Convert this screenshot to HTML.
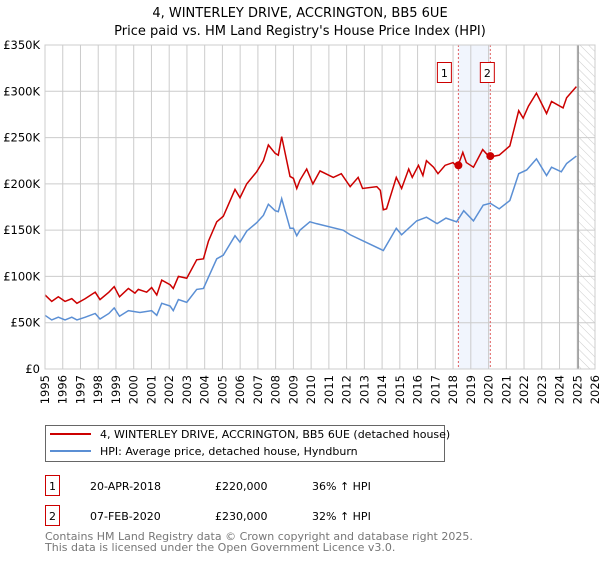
<!DOCTYPE html>
<html><head><meta charset="utf-8"><style>
body{margin:0;background:#fff;font-family:"Liberation Sans","DejaVu Sans",sans-serif;}
svg text{font-family:"DejaVu Sans","Liberation Sans",sans-serif;}
</style></head><body>
<svg id="c" width="600" height="560" xmlns="http://www.w3.org/2000/svg">
<defs><pattern id="hatch" width="6" height="6" patternUnits="userSpaceOnUse" patternTransform="rotate(-45)"><line x1="0" y1="0" x2="0" y2="6" stroke="#ccc" stroke-width="1"/></pattern></defs>
<text x="300" y="17" text-anchor="middle" font-size="13" fill="#000">4, WINTERLEY DRIVE, ACCRINGTON, BB5 6UE</text>
<text x="300" y="35" text-anchor="middle" font-size="13" fill="#000">Price paid vs. HM Land Registry's House Price Index (HPI)</text>
<g id="plot"></g>
<g>
<rect x="45.5" y="425.5" width="399" height="36" fill="#fff" stroke="#666"/>
<line x1="50" y1="434" x2="91" y2="434" stroke="#cc0000" stroke-width="2"/>
<text x="100" y="438" font-size="11">4, WINTERLEY DRIVE, ACCRINGTON, BB5 6UE (detached house)</text>
<line x1="50" y1="451" x2="91" y2="451" stroke="#5b8fd4" stroke-width="2"/>
<text x="100" y="455" font-size="11">HPI: Average price, detached house, Hyndburn</text>
</g>
<g font-size="11">
<rect x="45.5" y="475.5" width="14" height="20" fill="#fff" stroke="#cc0000"/>
<text x="52.5" y="490" text-anchor="middle">1</text>
<text x="90" y="490">20-APR-2018</text><text x="215" y="490">£220,000</text><text x="312" y="490">36% ↑ HPI</text>
<rect x="45.5" y="505.5" width="14" height="20" fill="#fff" stroke="#cc0000"/>
<text x="52.5" y="520" text-anchor="middle">2</text>
<text x="90" y="520">07-FEB-2020</text><text x="215" y="520">£230,000</text><text x="312" y="520">32% ↑ HPI</text>
</g>
<text x="45" y="540" font-size="11" fill="#777">Contains HM Land Registry data © Crown copyright and database right 2025.</text>
<text x="45" y="551" font-size="11" fill="#777">This data is licensed under the Open Government Licence v3.0.</text>
</svg>
<script>
const yTicks=[0,50,100,150,200,250,300,350];
const yTickLabels=["£0","£50K","£100K","£150K","£200K","£250K","£300K","£350K"];
const xYears=[1995,1996,1997,1998,1999,2000,2001,2002,2003,2004,2005,2006,2007,2008,2009,2010,2011,2012,2013,2014,2015,2016,2017,2018,2019,2020,2021,2022,2023,2024,2025,2026];
const propYears=[1995.0,1995.38,1995.75,1996.13,1996.51,1996.8,1997.27,1997.83,1998.1,1998.6,1998.9,1999.2,1999.7,2000.07,2000.26,2000.73,2001.01,2001.3,2001.58,2002.05,2002.23,2002.52,2002.99,2003.55,2003.93,2004.21,2004.68,2005.05,2005.71,2005.99,2006.37,2006.93,2007.31,2007.59,2007.97,2008.15,2008.34,2008.81,2009.0,2009.19,2009.37,2009.75,2010.1,2010.5,2011.25,2011.7,2012.2,2012.65,2012.9,2013.7,2013.9,2014.07,2014.25,2014.8,2015.1,2015.5,2015.7,2016.05,2016.3,2016.5,2016.9,2017.15,2017.55,2018.0,2018.25,2018.55,2018.75,2019.15,2019.67,2020.05,2020.6,2021.2,2021.7,2021.95,2022.25,2022.7,2023.27,2023.55,2024.2,2024.4,2024.95];
const propValues=[80,73,78,73,76,71,76,83,75,83,89,78,87,82,86,83,88,80,96,91,87,100,98,118,119,138,159,165,194,185,200,213,225,242,233,231,251,208,206,195,204,216,200,214,207,211,197,207,195,197,193,172,173,207,195,216,207,220,209,225,218,211,220,223,218,234,223,218,237,229,231,241,279,271,284,298,276,289,282,293,305];
const hpiYears=[1995.0,1995.38,1995.75,1996.13,1996.51,1996.8,1997.27,1997.83,1998.1,1998.6,1998.9,1999.2,1999.7,2000.35,2001.01,2001.3,2001.58,2002.05,2002.23,2002.52,2002.99,2003.55,2003.93,2004.21,2004.68,2005.05,2005.71,2005.99,2006.37,2006.93,2007.31,2007.59,2007.97,2008.15,2008.34,2008.81,2009.0,2009.19,2009.37,2009.93,2010.3,2011.8,2012.2,2014.07,2014.8,2015.1,2015.95,2016.5,2017.1,2017.6,2018.2,2018.6,2019.15,2019.7,2020.1,2020.6,2021.2,2021.7,2022.15,2022.7,2023.27,2023.55,2024.1,2024.4,2024.95];
const hpiValues=[58,53,56,53,56,53,56,60,54,60,66,57,63,61,63,58,71,68,63,75,72,86,87,99,119,123,144,137,149,158,166,178,171,170,184,152,152,144,150,159,157,150,145,128,152,145,160,164,157,163,159,171,160,177,179,173,182,211,215,227,209,218,213,222,230];
const saleYears=[2018.3,2020.1];
const saleValues=[220,230];
const saleLabels=["1","2"];

const L=45,R=595,T=45,B=369,Y0=1995,Y1=2026,V1=350;
const xs=y=>L+(y-Y0)/(Y1-Y0)*(R-L);
const ys=v=>B-v/V1*(B-T);
const NS="http://www.w3.org/2000/svg";
const g=document.getElementById('plot');
function mk(tag,attrs){const e=document.createElementNS(NS,tag);for(const k in attrs)e.setAttribute(k,attrs[k]);g.appendChild(e);return e;}
// sale band
let e=mk('rect',{x:xs(saleYears[0]),y:T,width:xs(saleYears[1])-xs(saleYears[0]),height:B-T,fill:'#eef3fc',opacity:0.8});


// hatch
e=mk('rect',{x:xs(2025.05),y:T,width:R-xs(2025.05),height:B-T,fill:'url(#hatch)'});


// grid
yTicks.forEach((v,i)=>{
 e=mk('line',{x1:L,x2:R,y1:ys(v),y2:ys(v),stroke:'#ccc','stroke-width':1});
 
 
 e=mk('text',{x:L-5,y:ys(v)+4,'text-anchor':'end','font-size':11.5,fill:'#000'});e.textContent=yTickLabels[i];
 
 
});
xYears.forEach(yr=>{
 e=mk('line',{x1:xs(yr),x2:xs(yr),y1:T,y2:B,stroke:'#ccc','stroke-width':1});
 
 
 e=mk('text',{x:0,y:0,'text-anchor':'end','font-size':11.5,fill:'#000',transform:`translate(${xs(yr)+4},${B+6}) rotate(-90)`});e.textContent=yr;
 
 
});
e=mk('line',{x1:xs(2025.05),x2:xs(2025.05),y1:T,y2:B,stroke:'#999','stroke-width':1.5});


saleYears.forEach((yr,i)=>{
 e=mk('line',{x1:xs(yr),x2:xs(yr),y1:T,y2:B,stroke:'#e06060','stroke-width':1,'stroke-dasharray':'2,2'});
 
 
});
e=mk('polyline',{points:hpiYears.map((y,i)=>xs(y)+','+ys(hpiValues[i])).join(' '),fill:'none',stroke:'#5b8fd4','stroke-width':1.5});


e=mk('polyline',{points:propYears.map((y,i)=>xs(y)+','+ys(propValues[i])).join(' '),fill:'none',stroke:'#cc0000','stroke-width':1.5});


saleYears.forEach((yr,i)=>{
 e=mk('circle',{cx:xs(yr),cy:ys(saleValues[i]),r:4,fill:'#cc0000'});
 
 
 e=mk('rect',{x:xs(yr)-21,y:62.5,width:14,height:20,fill:'#fff',stroke:'#cc0000'});
 if(i==1){e.setAttribute('x',xs(yr)-10);}
 
 
 e=mk('text',{x:(i==0?xs(yr)-14:xs(yr)-3),y:77,'text-anchor':'middle','font-size':11,fill:'#000'});e.textContent=saleLabels[i];
 
 
});
e=mk('rect',{x:L,y:T,width:R-L,height:B-T,fill:'none',stroke:'#ccc'});


</script>
</body></html>
